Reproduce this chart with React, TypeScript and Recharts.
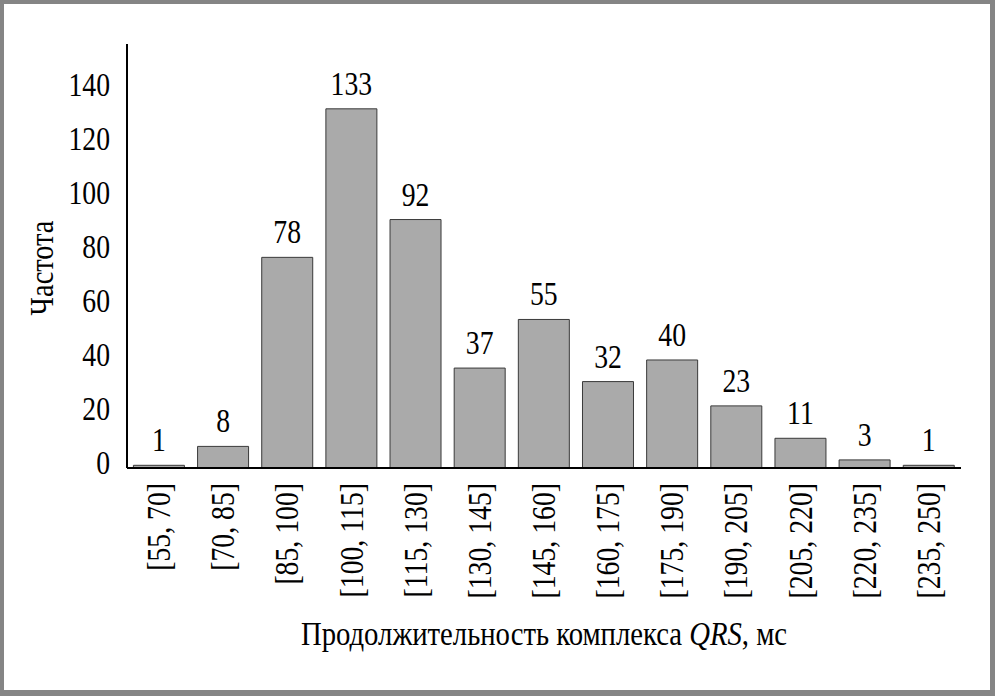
import React from "react";
import {
  BarChart,
  Bar,
  XAxis,
  YAxis,
  LabelList,
} from "recharts";

// интервалы длительности QRS, мс
const intervals = [
  "[55, 70]",
  "[70, 85]",
  "[85, 100]",
  "[100, 115]",
  "[115, 130]",
  "[130, 145]",
  "[145, 160]",
  "[160, 175]",
  "[175, 190]",
  "[190, 205]",
  "[205, 220]",
  "[220, 235]",
  "[235, 250]",
];

// частота
const counts = [1, 8, 78, 133, 92, 37, 55, 32, 40, 23, 11, 3, 1];

const yTicks = [0, 20, 40, 60, 80, 100, 120, 140];

const data = intervals.map((name, i) => ({ name, count: counts[i] }));

const FONT = "Liberation Serif";
const FS = 33;
const SX = 0.84;
const txt = { fontFamily: FONT, fontSize: FS };

const YTick = (props: any) => {
  const { x, y, payload } = props;
  return (
    <text
      transform={`translate(${x},${y + 6}) scale(${SX},1)`}
      textAnchor="end"
      style={txt}
      fill="#000"
    >
      {payload.value}
    </text>
  );
};

const XTick = (props: any) => {
  const { x, y, payload } = props;
  return (
    <text
      transform={`translate(${x + 11},${y}) rotate(-90) scale(${SX},1)`}
      textAnchor="end"
      style={txt}
      fill="#000"
    >
      {payload.value}
    </text>
  );
};

const ValueLabel = (props: any) => {
  const { x, y, width, value } = props;
  return (
    <text
      transform={`translate(${x + width / 2},${y - 14}) scale(${SX},1)`}
      textAnchor="middle"
      style={txt}
      fill="#000"
    >
      {value}
    </text>
  );
};

const XTitle = (props: any) => {
  const vb = props.viewBox;
  const cx = vb.x + vb.width / 2;
  return (
    <text
      transform={`translate(${cx},645) scale(0.87,1)`}
      textAnchor="middle"
      style={txt}
      fill="#000"
    >
      Продолжительность комплекса <tspan style={{ fontStyle: "italic" }}>QRS</tspan>, мс
    </text>
  );
};

const YTitle = () => (
  <text
    transform={`translate(53,268) rotate(-90) scale(0.86,1)`}
    textAnchor="middle"
    style={txt}
    fill="#000"
  >
    Частота
  </text>
);

export default function App() {
  return (
    <div
      style={{
        position: "fixed",
        left: 0,
        top: 0,
        width: 995,
        height: 696,
        background: "#fff",
      }}
    >
      <BarChart
        width={995}
        height={696}
        data={data}
        margin={{ top: 44, right: 34, left: 67, bottom: 0 }}
        barCategoryGap="10%"
      >
        <XAxis
          dataKey="name"
          interval={0}
          height={228}
          tickLine={false}
          tickMargin={9}
          axisLine={{ stroke: "#000", strokeWidth: 2 }}
          tick={XTick}
          label={{ content: XTitle }}
        />
        <XAxis
          xAxisId="top"
          dataKey="name"
          orientation="top"
          height={0}
          tick={false}
          tickLine={false}
          axisLine={{ stroke: "#000", strokeWidth: 1.5 }}
        />
        <YAxis
          width={60}
          domain={[0, 157]}
          ticks={yTicks}
          allowDataOverflow
          tickLine={false}
          tickMargin={11}
          axisLine={{ stroke: "#000", strokeWidth: 2 }}
          tick={YTick}
          label={{ content: YTitle }}
        />
        <YAxis
          yAxisId="right"
          orientation="right"
          width={0}
          domain={[0, 157]}
          tick={false}
          tickLine={false}
          axisLine={{ stroke: "#000", strokeWidth: 1.5 }}
        />
        <Bar
          dataKey="count"
          fill="#aaaaaa"
          stroke="#3a3a3a"
          strokeWidth={1}
          isAnimationActive={false}
        >
          <LabelList dataKey="count" content={ValueLabel} />
        </Bar>
      </BarChart>
      <div
        style={{
          position: "absolute",
          left: 0,
          top: 0,
          width: 995,
          height: 696,
          boxSizing: "border-box",
          borderStyle: "solid",
          borderColor: "#858585",
          borderWidth: "4px 5px 6px 4px",
          pointerEvents: "none",
        }}
      />
    </div>
  );
}
